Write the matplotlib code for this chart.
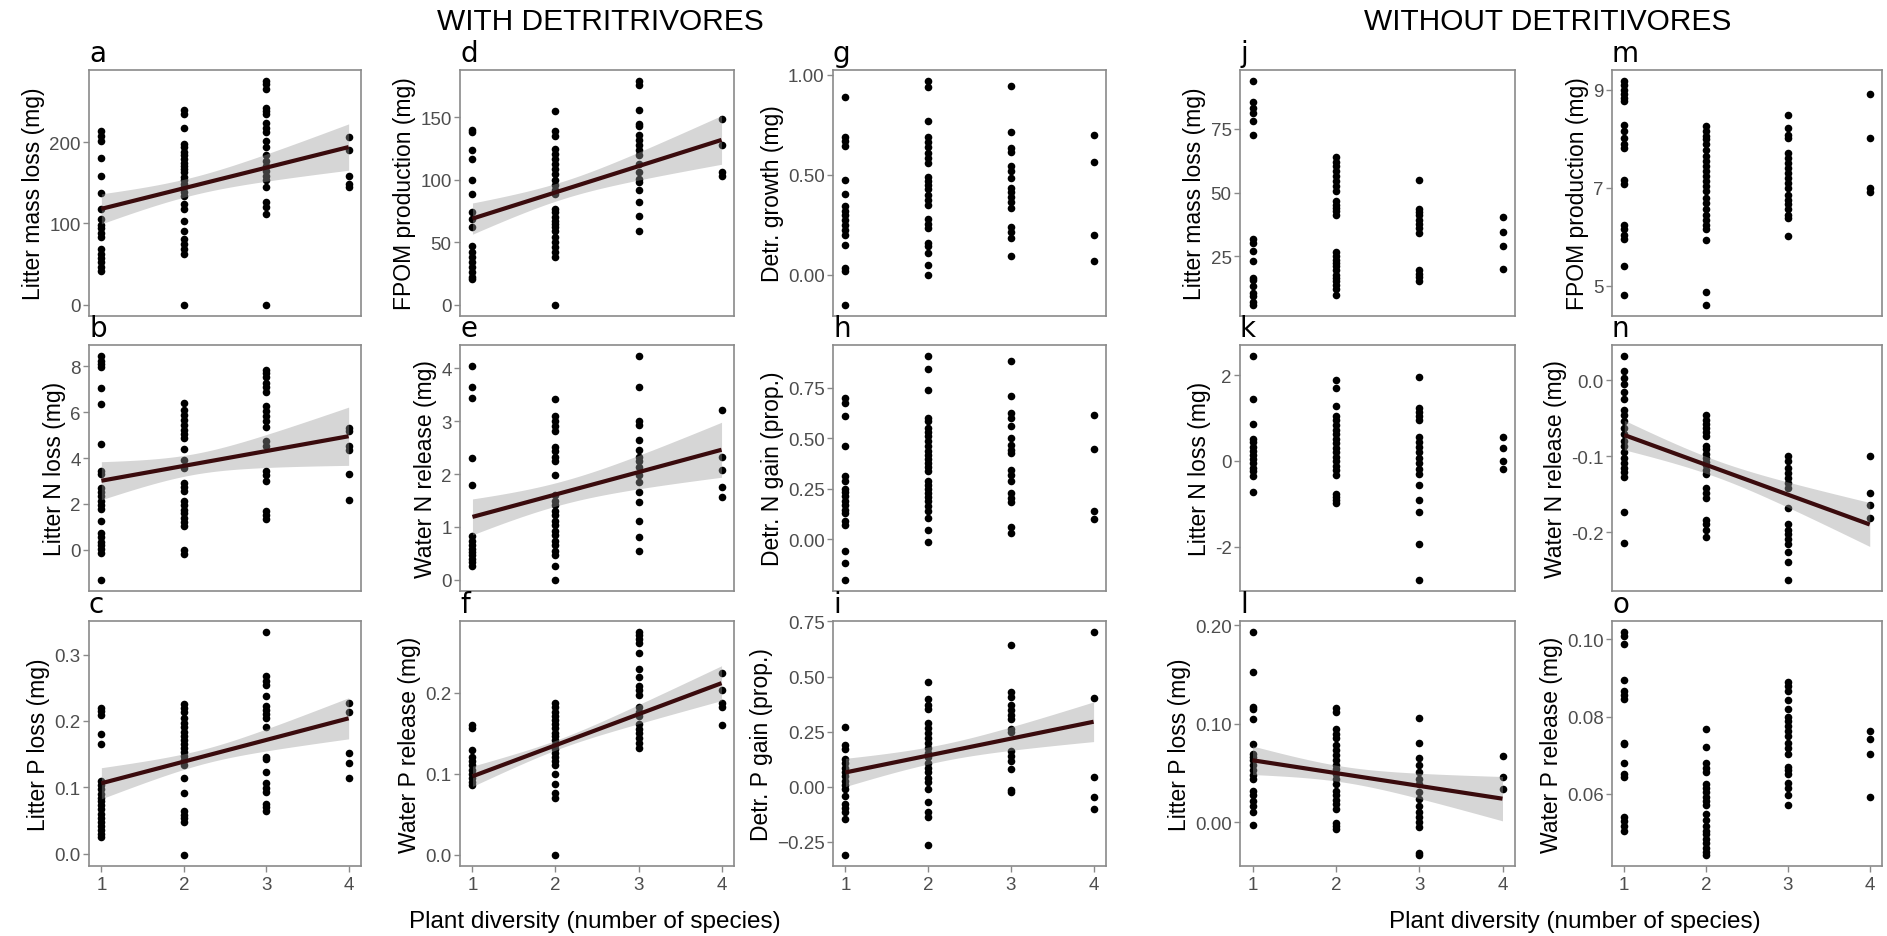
import numpy as np
import matplotlib
matplotlib.use('Agg')
import matplotlib.pyplot as plt

plt.rcParams['font.family'] = ['Liberation Sans', 'DejaVu Sans']

# values per plant diversity level (1, 2, 3, 4 species)
# ---- with detritivores
litter_mass_w = [[214, 208, 202, 181, 158, 137, 118, 105, 98, 94, 88, 83, 69, 63, 58, 53, 47, 41],
                 [239, 235, 217, 198, 194, 188, 184, 179, 175, 171, 167, 163, 157, 153, 149, 145, 139,
                  134, 124, 118, 103, 91, 81, 75, 69, 62, 0],
                 [275, 271, 266, 242, 238, 235, 223, 218, 212, 202, 194, 184, 177, 171, 165, 159, 153,
                  145, 126, 120, 112, 0],
                 [206, 190, 159, 149, 145]]
litter_n_w = [[8.44, 8.25, 8.10, 7.96, 7.05, 6.36, 4.61, 3.45, 3.30, 2.69, 2.52, 2.33, 2.14, 1.96, 1.79,
               1.27, 0.73, 0.54, 0.36, 0.19, 0.04, -0.15, -1.31],
              [6.40, 6.11, 5.89, 5.67, 5.45, 5.24, 5.05, 4.87, 4.41, 3.93, 3.56, 2.91, 2.72, 2.55, 2.14,
               1.96, 1.75, 1.60, 1.38, 1.21, 1.02, 0.0, -0.17],
              [7.85, 7.71, 7.52, 7.27, 7.08, 6.88, 6.25, 6.04, 5.82, 5.60, 5.34, 4.73, 4.51, 3.45, 3.27,
               2.98, 1.67, 1.53, 1.35],
              [5.31, 5.16, 4.51, 4.36, 3.30, 2.18]]
litter_p_w = [[0.220, 0.215, 0.209, 0.181, 0.166, 0.109, 0.103, 0.097, 0.090, 0.084, 0.079, 0.073, 0.067,
               0.060, 0.054, 0.048, 0.042, 0.035, 0.030, 0.025],
              [0.226, 0.220, 0.213, 0.204, 0.197, 0.191, 0.184, 0.178, 0.172, 0.166, 0.159, 0.153, 0.147,
               0.141, 0.134, 0.114, 0.092, 0.064, 0.058, 0.053, 0.048, -0.002],
              [0.334, 0.268, 0.261, 0.255, 0.238, 0.223, 0.216, 0.210, 0.204, 0.191, 0.146, 0.142, 0.123,
               0.106, 0.099, 0.093, 0.075, 0.070, 0.064],
              [0.227, 0.213, 0.152, 0.136, 0.114]]
fpom_w = [[140, 138, 124, 117, 100, 89, 74, 69, 62, 47, 42, 38, 34, 30, 26, 22, 21],
          [155, 139, 135, 125, 121, 117, 113, 109, 105, 100, 96, 92, 89, 77, 74, 70, 67, 65, 62, 59,
           54, 50, 46, 42, 38, 0],
          [179, 176, 156, 145, 143, 136, 132, 128, 124, 120, 113, 106, 101, 98, 92, 82, 71, 59],
          [149, 128, 106, 103]]
water_n_w = [[4.04, 3.64, 3.44, 2.30, 1.79, 0.83, 0.74, 0.66, 0.58, 0.52, 0.46, 0.39, 0.33, 0.27],
             [3.42, 3.09, 3.00, 2.90, 2.81, 2.52, 2.43, 2.33, 2.24, 1.98, 1.60, 1.50, 1.41, 1.31, 1.22,
              1.12, 1.03, 0.93, 0.84, 0.74, 0.65, 0.55, 0.46, 0.27, 0.0],
             [4.23, 3.64, 3.00, 2.93, 2.65, 2.46, 2.33, 2.24, 2.14, 1.98, 1.85, 1.66, 1.47, 1.12, 0.81, 0.55],
             [3.22, 2.33, 2.08, 1.76, 1.57]]
water_p_w = [[0.160, 0.157, 0.130, 0.121, 0.116, 0.111, 0.105, 0.100, 0.095, 0.090, 0.086],
             [0.188, 0.183, 0.177, 0.172, 0.167, 0.162, 0.157, 0.151, 0.147, 0.142, 0.136, 0.131, 0.126,
              0.121, 0.116, 0.111, 0.100, 0.087, 0.076, 0.070, 0.0],
             [0.275, 0.271, 0.267, 0.262, 0.249, 0.230, 0.220, 0.209, 0.204, 0.198, 0.183, 0.177, 0.172,
              0.161, 0.156, 0.151, 0.144, 0.138, 0.132],
             [0.225, 0.203, 0.188, 0.183, 0.160]]
detr_growth = [[0.886, 0.686, 0.666, 0.644, 0.472, 0.405, 0.343, 0.321, 0.301, 0.276, 0.251, 0.226, 0.201,
                0.151, 0.033, 0.017, -0.150],
               [0.967, 0.936, 0.766, 0.686, 0.661, 0.636, 0.610, 0.585, 0.560, 0.488, 0.468, 0.446, 0.426,
                0.401, 0.376, 0.351, 0.279, 0.254, 0.234, 0.159, 0.142, 0.109, 0.050, 0.0],
               [0.945, 0.711, 0.635, 0.615, 0.543, 0.518, 0.485, 0.435, 0.413, 0.390, 0.365, 0.334, 0.239,
                0.214, 0.184, 0.092],
               [0.699, 0.564, 0.201, 0.070]]
detr_n = [[0.700, 0.675, 0.609, 0.460, 0.311, 0.290, 0.248, 0.232, 0.212, 0.190, 0.171, 0.146, 0.129,
           0.088, 0.068, -0.061, -0.119, -0.202],
          [0.907, 0.841, 0.737, 0.601, 0.584, 0.551, 0.531, 0.510, 0.485, 0.460, 0.435, 0.416, 0.397,
           0.377, 0.356, 0.336, 0.286, 0.267, 0.248, 0.228, 0.207, 0.187, 0.162, 0.137, 0.104, 0.046, -0.015],
          [0.882, 0.712, 0.626, 0.601, 0.560, 0.502, 0.469, 0.444, 0.427, 0.344, 0.320, 0.290, 0.228,
           0.204, 0.184, 0.058, 0.030],
          [0.614, 0.447, 0.137, 0.101]]
detr_p = [[0.273, 0.188, 0.170, 0.128, 0.107, 0.087, 0.068, 0.050, 0.027, 0.009, -0.011, -0.041, -0.078,
           -0.096, -0.116, -0.146, -0.309],
          [0.476, 0.399, 0.373, 0.351, 0.288, 0.268, 0.245, 0.223, 0.200, 0.178, 0.155, 0.133, 0.110,
           0.087, 0.065, 0.042, 0.020, -0.011, -0.071, -0.116, -0.139, -0.264],
          [0.642, 0.429, 0.408, 0.369, 0.348, 0.324, 0.306, 0.261, 0.248, 0.163, 0.140, 0.117, 0.080,
           -0.014, -0.026],
          [0.700, 0.404, 0.045, -0.048, -0.101]]
# ---- without detritivores
litter_mass_wo = [[93.7, 85.5, 83.2, 81.3, 78.0, 72.4, 31.8, 30.2, 27.0, 23.0, 16.5, 15.6, 13.5, 10.6, 9.3,
                   7.3, 6.0],
                  [64.0, 61.9, 60.3, 58.4, 56.4, 54.5, 52.5, 50.6, 46.6, 45.3, 44.0, 42.7, 41.1, 26.6, 25.0,
                   23.7, 22.4, 21.1, 19.8, 17.8, 16.5, 15.2, 13.9, 12.2, 10.0],
                  [54.8, 43.7, 42.4, 41.1, 39.4, 37.8, 36.1, 34.2, 19.8, 18.2, 16.9, 15.2],
                  [40.3, 34.7, 29.2, 20.2]]
litter_n_wo = [[2.44, 1.45, 0.85, 0.52, 0.43, 0.33, 0.23, 0.13, 0.04, -0.06, -0.16, -0.24, -0.34, -0.73],
               [1.88, 1.70, 1.27, 1.05, 0.95, 0.84, 0.72, 0.62, 0.52, 0.41, 0.29, 0.20, 0.09, -0.01, -0.12,
                -0.22, -0.32, -0.77, -0.84, -0.92, -0.98],
               [1.95, 1.24, 1.15, 1.05, 0.95, 0.56, 0.45, 0.33, 0.20, 0.07, -0.06, -0.18, -0.30, -0.55,
                -0.92, -1.18, -1.94, -2.77],
               [0.56, 0.31, -0.01, -0.18]]
litter_p_wo = [[0.193, 0.153, 0.117, 0.115, 0.105, 0.079, 0.069, 0.066, 0.063, 0.058, 0.053, 0.048, 0.044,
                0.032, 0.028, 0.022, 0.017, 0.010, -0.003],
               [0.116, 0.112, 0.095, 0.090, 0.086, 0.078, 0.073, 0.068, 0.063, 0.058, 0.054, 0.049, 0.044,
                0.039, 0.032, 0.028, 0.023, 0.019, 0.014, -0.001, -0.004, -0.007],
               [0.106, 0.081, 0.065, 0.058, 0.051, 0.044, 0.039, 0.031, 0.024, 0.017, 0.010, 0.005, 0.0,
                -0.005, -0.031, -0.033],
               [0.067, 0.046, 0.034]]
fpom_wo = [[9.18, 9.10, 9.01, 8.91, 8.84, 8.77, 8.28, 8.17, 8.02, 7.89, 7.81, 7.17, 7.07, 6.25, 6.15, 6.04,
            5.96, 5.40, 4.82],
           [8.26, 8.16, 8.06, 7.99, 7.89, 7.78, 7.65, 7.55, 7.44, 7.34, 7.24, 7.14, 7.03, 6.93, 6.80, 6.69,
            6.56, 6.45, 6.35, 6.25, 6.15, 5.94, 4.88, 4.61],
           [8.49, 8.23, 8.09, 8.01, 7.72, 7.61, 7.51, 7.41, 7.31, 7.20, 7.10, 7.00, 6.86, 6.76, 6.66, 6.56,
            6.45, 6.39, 6.01],
           [8.91, 8.02, 6.99, 6.91]]
water_n_wo = [[0.032, 0.013, 0.003, -0.005, -0.015, -0.024, -0.039, -0.046, -0.053, -0.063, -0.071, -0.080,
               -0.086, -0.095, -0.102, -0.109, -0.116, -0.121, -0.127, -0.173, -0.215],
              [-0.046, -0.052, -0.058, -0.063, -0.068, -0.073, -0.087, -0.091, -0.097, -0.102, -0.107,
               -0.112, -0.118, -0.124, -0.142, -0.149, -0.155, -0.184, -0.190, -0.197, -0.207],
              [-0.100, -0.106, -0.116, -0.122, -0.129, -0.135, -0.142, -0.168, -0.190, -0.197, -0.203,
               -0.209, -0.216, -0.226, -0.240, -0.263],
              [-0.100, -0.149, -0.164, -0.182]]
water_p_wo = [[0.1019, 0.1010, 0.0987, 0.0896, 0.0867, 0.0856, 0.0846, 0.0733, 0.0728, 0.0681, 0.0651,
               0.0645, 0.0540, 0.0531, 0.0516, 0.0505],
              [0.0769, 0.0722, 0.0679, 0.0666, 0.0656, 0.0625, 0.0615, 0.0604, 0.0593, 0.0582, 0.0570,
               0.0548, 0.0533, 0.0516, 0.0505, 0.0495, 0.0484, 0.0473, 0.0460, 0.0450, 0.0442],
              [0.0889, 0.0880, 0.0867, 0.0842, 0.0820, 0.0799, 0.0788, 0.0776, 0.0762, 0.0750, 0.0733,
               0.0719, 0.0704, 0.0670, 0.0662, 0.0651, 0.0627, 0.0615, 0.0597, 0.0570],
              [0.0762, 0.0741, 0.0704, 0.0593]]

# fitted line (value at 1 and 4 species) and CI half width (at 1, narrowest, at 4)
fit_lines = {'a': (118, 194), 'b': (3.01, 4.95), 'c': (0.106, 0.204),
             'd': (69, 132), 'e': (1.19, 2.46), 'f': (0.097, 0.212),
             'i': (0.065, 0.295), 'l': (0.063, 0.024), 'n': (-0.072, -0.190)}
fit_halfwidth = {'a': (18.5, 11, 28.5), 'b': (0.83, 0.45, 1.27), 'c': (0.0235, 0.011, 0.031),
                 'd': (12.5, 7, 19.5), 'e': (0.34, 0.22, 0.52), 'f': (0.0125, 0.006, 0.0215),
                 'i': (0.064, 0.038, 0.090), 'l': (0.0145, 0.008, 0.0225), 'n': (0.0195, 0.011, 0.029)}

diversity = [1, 2, 3, 4]
xlab = 'Plant diversity (number of species)'

panels = [
    # letter, data, ylabel, ticks, ticklabels, column, row
    ('a', litter_mass_w, 'Litter mass loss (mg)', [0, 100, 200], ['0', '100', '200'], 0, 0),
    ('b', litter_n_w, 'Litter N loss (mg)', [0, 2, 4, 6, 8], ['0', '2', '4', '6', '8'], 0, 1),
    ('c', litter_p_w, 'Litter P loss (mg)', [0, 0.1, 0.2, 0.3], ['0.0', '0.1', '0.2', '0.3'], 0, 2),
    ('d', fpom_w, 'FPOM production (mg)', [0, 50, 100, 150], ['0', '50', '100', '150'], 1, 0),
    ('e', water_n_w, 'Water N release (mg)', [0, 1, 2, 3, 4], ['0', '1', '2', '3', '4'], 1, 1),
    ('f', water_p_w, 'Water P release (mg)', [0, 0.1, 0.2], ['0.0', '0.1', '0.2'], 1, 2),
    ('g', detr_growth, 'Detr. growth (mg)', [0, 0.5, 1.0], ['0.00', '0.50', '1.00'], 2, 0),
    ('h', detr_n, 'Detr. N gain (prop.)', [0, 0.25, 0.5, 0.75], ['0.00', '0.25', '0.50', '0.75'], 2, 1),
    ('i', detr_p, 'Detr. P gain (prop.)', [-0.25, 0, 0.25, 0.5, 0.75],
     ['\u22120.25', '0.00', '0.25', '0.50', '0.75'], 2, 2),
    ('j', litter_mass_wo, 'Litter mass loss (mg)', [25, 50, 75], ['25', '50', '75'], 3, 0),
    ('k', litter_n_wo, 'Litter N loss (mg)', [-2, 0, 2], ['-2', '0', '2'], 3, 1),
    ('l', litter_p_wo, 'Litter P loss (mg)', [0, 0.1, 0.2], ['0.00', '0.10', '0.20'], 3, 2),
    ('m', fpom_wo, 'FPOM production (mg)', [5, 7, 9], ['5', '7', '9'], 4, 0),
    ('n', water_n_wo, 'Water N release (mg)', [-0.2, -0.1, 0.0], ['-0.2', '-0.1', '0.0'], 4, 1),
    ('o', water_p_wo, 'Water P release (mg)', [0.06, 0.08, 0.10], ['0.06', '0.08', '0.10'], 4, 2),
]

W, H = 1887, 937
col_px = [(89, 361), (460, 734), (833, 1106), (1240, 1515), (1612, 1882)]
row_px = [(71, 317), (346, 592), (622, 867)]
frame_col = '#8a8a8a'

fig = plt.figure(figsize=(W / 100, H / 100), dpi=100)

for letter, data, ylabel, ticks, ticklabels, col, row in panels:
    x0, x1 = col_px[col]
    y0, y1 = row_px[row]
    ax = fig.add_axes([x0 / W, 1 - y1 / H, (x1 - x0) / W, (y1 - y0) / H])
    xs = np.concatenate([[d] * len(v) for d, v in zip(diversity, data)])
    ys = np.concatenate(data)
    ax.scatter(xs, ys, s=30, color='black', linewidths=0, zorder=2)
    if letter in fit_lines:
        f1, f4 = fit_lines[letter]
        h1, hmin, h4 = fit_halfwidth[letter]
        # hyperbolic confidence band, narrowest point placed from the three widths
        r = np.sqrt((h1 ** 2 - hmin ** 2) / (h4 ** 2 - hmin ** 2))
        c = (1 + 4 * r) / (1 + r)
        k = (h1 ** 2 - hmin ** 2) / (1 - c) ** 2
        xx = np.linspace(1, 4, 120)
        yy = f1 + (f4 - f1) * (xx - 1) / 3
        hw = np.sqrt(hmin ** 2 + k * (xx - c) ** 2)
        ax.fill_between(xx, yy - hw, yy + hw, color='#999999', alpha=0.4, linewidth=0, zorder=3)
        ax.plot(xx, yy, color='#3a0b0d', lw=3, zorder=4, solid_capstyle='butt')
    ax.margins(x=0.05, y=0.05)
    if letter == 'i':
        lo, hi = ax.get_ylim()
        ax.set_ylim(lo, 0.752)
    ax.set_xticks(diversity)
    ax.set_yticks(ticks)
    ax.set_yticklabels(ticklabels)
    for sp in ax.spines.values():
        sp.set_color(frame_col)
        sp.set_linewidth(1.2)
    ax.tick_params(axis='y', length=4, width=1, color=frame_col, labelsize=13.5,
                   labelcolor='#4d4d4d', pad=2)
    if row == 2:
        ax.tick_params(axis='x', length=4, width=1, color=frame_col, labelsize=13.5,
                       labelcolor='#4d4d4d', pad=3)
    else:
        ax.tick_params(axis='x', bottom=False, labelbottom=False)
    ax.set_ylabel(ylabel, fontsize=16.5, labelpad=3)
    ax.text(0.0, 1.012, letter, transform=ax.transAxes, ha='left', va='bottom',
            fontsize=20, family='DejaVu Sans')

fig.text(600 / W, 1 - 22 / H, 'WITH DETRITRIVORES', ha='center', va='center', fontsize=21.5)
fig.text(1548 / W, 1 - 22 / H, 'WITHOUT DETRITIVORES', ha='center', va='center', fontsize=21.5)
fig.text(595 / W, 1 - 922 / H, xlab, ha='center', va='center', fontsize=17.5)
fig.text(1575 / W, 1 - 922 / H, xlab, ha='center', va='center', fontsize=17.5)

fig.savefig('out.png', dpi=100)
